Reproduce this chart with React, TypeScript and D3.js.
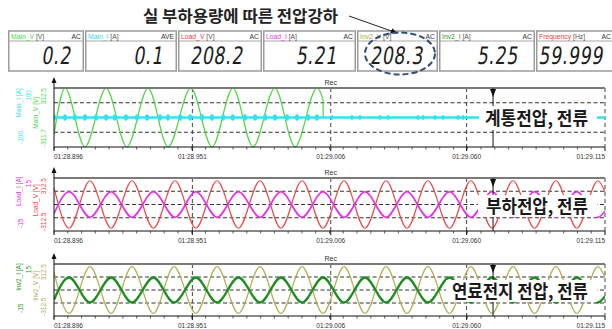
import React from "react";
import * as d3 from "d3";

// ---- time axis (ms after 01:28.896) ----
const timeDomainMs = [0, 219];
const timeTicksMs = [0, 55, 110, 164, 219];
const timeTickLabels = ["01:28.896", "01:28.951", "01:29.006", "01:29.060", "01:29.115"];
const recMs = 110;
const cursorMs = 174.5;

// ---- meter readouts ----
const meterNames = ["Main_V", "Main_I", "Load_V", "Load_I", "Inv2_V", "Inv2_I", "Frequency"];
const meterUnits = ["[V]", "[A]", "[V]", "[A]", "[V]", "[A]", "[Hz]"];
const meterModes = ["AC", "AVE", "AC", "AC", "AC", "AC", "AC"];
const meterValues = ["0.2", "0.1", "208.2", "5.21", "208.3", "5.25", "59.999"];

// ---- panels ----
const panelTitles = ["계통전압, 전류", "부하전압, 전류", "연료전지 전압, 전류"];
const voltNames = ["Main_V [V]", "Load_V [V]", "Inv2_V [V]"];
const currNames = ["Main_I [A]", "Load_I [A]", "Inv2_I [A]"];
const voltRanges = [[-311.7, 312.5], [-312.5, 312.5], [-312.5, 312.5]];
const currRanges = [[-100, 100], [-15, 15], [-15, 15]];

// Main_V: extremum instants (ms) and values (V); the source drops out at ~107 ms
const mainVTimes = [0, 4.4, 12.3, 20.7, 29.0, 37.4, 45.3, 54.4, 62.8, 71.1, 79.1, 87.8, 95.8, 104.5, 106.9, 107.0];
const mainVValues = [-180, 310, -310, 310, -310, 310, -310, 310, -310, 310, -310, 310, -310, 310, 190, 0];

// Main_I: flat near zero, with small spikes
const mainITimes = [0, 219];
const mainIValues = [0, 0];
const mainISpikesMs = [0, 4.4, 8.3, 12.3, 16.7, 20.7, 24.2, 28.6, 33.0, 37.0, 42.1, 45.3, 50.1, 54.1, 58.8, 62.8, 67.2, 71.1, 75.9, 79.9, 83.9, 87.8, 92.6, 96.6, 101.0, 104.5];
const mainISmallSpikesMs = [110.5, 118.4, 121.6, 129.6, 132.8, 144.7, 146.7, 151.4, 154.6, 160.6, 162.6];

// Load side: extremum instants (ms)
const loadTimes = [0, 6.0, 14.3, 22.7, 31.0, 39.5, 48.1, 56.4, 64.8, 73.3, 81.9, 90.2, 98.6, 106.9, 115.3, 123.6, 132.0, 140.3, 148.6, 157.2, 165.7, 174.1, 182.4, 191.0, 199.5, 207.8, 216.2, 219];
const loadVValues = [200, -280, 280, -280, 280, -280, 280, -280, 280, -280, 280, -280, 280, -280, 280, -280, 280, -280, 280, -280, 280, -280, 280, -280, 280, -280, 280, 150];
const loadIValues = [-5.2, 7.2, -7.2, 7.2, -7.2, 7.2, -7.2, 7.2, -7.2, 7.2, -7.2, 7.2, -7.2, 7.2, -7.2, 7.2, -7.2, 7.2, -7.2, 7.2, -7.2, 7.2, -7.2, 7.2, -7.2, 7.2, -7.2, -3.6];

// Fuel-cell inverter side
const inv2Times = [0, 6.0, 14.3, 22.7, 31.0, 39.5, 47.7, 56.4, 64.8, 73.3, 81.9, 90.2, 98.6, 106.9, 115.3, 123.6, 132.0, 140.3, 148.6, 157.2, 165.7, 174.1, 182.4, 191.0, 199.5, 207.8, 216.2, 219];
const inv2VValues = [215, -282, 282, -282, 282, -282, 282, -282, 282, -282, 282, -282, 282, -282, 282, -282, 282, -282, 282, -282, 282, -282, 282, -282, 282, -282, 282, 150];
const inv2IValues = [-5.6, 7.2, -7.2, 7.2, -7.2, 7.2, -7.2, 7.2, -7.2, 7.2, -7.2, 7.2, -7.2, 7.2, -7.2, 7.2, -7.2, 7.2, -7.2, 7.2, -7.2, 7.2, -7.2, 7.2, -7.2, 7.2, -7.2, -3.6];

// ---- styling / layout ----
const meterColors = ["#3fdc3f", "#2fd8e6", "#ee3a3a", "#e83ae8", "#aea23a", "#2a9a2a", "#ee3a3a"];
const meterLefts = [8, 85, 178, 263, 357, 439, 536, 620];
const meterValueRight = [71, 163, 243, 337, 423, 518, 603];
const panelTops = [88, 178, 264];
const panelBottoms = [147, 231, 316];
const voltColors = ["#46da3a", "#f04848", "#b5ad52"];
const currColors = ["#2ee4f0", "#ec2cec", "#1b8f1b"];
const currTextColors = ["#2ee4f0", "#ec2cec", "#22a022"];
const voltWidths = [1.2, 1.2, 1.2];
const currWidths = [2.6, 1.6, 2.3];
const noteBoxes = [
  { x: 479, y: 106, w: 118, h: 24, t0: 485, t1: 588 },
  { x: 478, y: 195, w: 119, h: 22, t0: 486, t1: 588 },
  { x: 446, y: 280, w: 151, h: 22, t0: 452, t1: 588 },
];

const PLOT_L = 54;
const PLOT_R = 605;
const SANS = "'Liberation Sans', Arial, sans-serif";
const KR = "'Noto Sans CJK KR', 'Noto Sans', sans-serif";

function Panel({ i }: { i: number }) {
  const top = panelTops[i];
  const bottom = panelBottoms[i];
  const h = bottom - top;
  const x = d3.scaleLinear().domain(timeDomainMs).range([PLOT_L, PLOT_R]);
  const yV = d3.scaleLinear().domain(voltRanges[i]).range([bottom, top]);
  const yI = d3.scaleLinear().domain(currRanges[i]).range([bottom, top]);

  const seriesByPanel = [
    { vt: mainVTimes, vv: mainVValues, it: mainITimes, iv: mainIValues },
    { vt: loadTimes, vv: loadVValues, it: loadTimes, iv: loadIValues },
    { vt: inv2Times, vv: inv2VValues, it: inv2Times, iv: inv2IValues },
  ][i];

  const lineV = d3
    .line<number>()
    .x((_, k) => x(seriesByPanel.vt[k]))
    .y((d) => yV(d))
    .curve(d3.curveMonotoneX);
  const lineI = d3
    .line<number>()
    .x((_, k) => x(seriesByPanel.it[k]))
    .y((d) => yI(d))
    .curve(d3.curveMonotoneX);

  const minor = d3.range(0, 40).map((k) => (timeDomainMs[1] * k) / 40);
  const hGrid = [0.25, 0.5, 0.75].map((f) => top + f * h);
  const clipId = `clip${i}`;
  const note = noteBoxes[i];

  const vLabelY = top + 0.42 * h;
  const iLabelY = top + 0.25 * h;

  return (
    <g>
      <defs>
        <clipPath id={clipId}>
          <rect x={PLOT_L} y={top - 1} width={PLOT_R - PLOT_L} height={h + 2} />
        </clipPath>
      </defs>
      {/* grid */}
      {hGrid.map((gy, k) => (
        <line key={k} x1={PLOT_L} x2={PLOT_R} y1={gy} y2={gy} stroke="#333" strokeWidth={1} strokeDasharray="4 2.5" />
      ))}
      {timeTicksMs.slice(1).map((t, k) => (
        <line key={k} x1={x(t)} x2={x(t)} y1={top} y2={bottom} stroke="#444" strokeWidth={1} strokeDasharray="4 3" />
      ))}
      {/* traces */}
      <g clipPath={`url(#${clipId})`}>
        <path d={lineV(seriesByPanel.vv) || ""} fill="none" stroke={voltColors[i]} strokeWidth={voltWidths[i]} />
        <path d={lineI(seriesByPanel.iv) || ""} fill="none" stroke={currColors[i]} strokeWidth={currWidths[i]} strokeLinejoin="round" />
        {i === 0 &&
          mainISpikesMs.map((t, k) => (
            <ellipse key={k} cx={x(t)} cy={yI(0)} rx={2} ry={3.2} fill={currColors[0]} />
          ))}
        {i === 0 &&
          mainISmallSpikesMs.map((t, k) => (
            <ellipse key={"s" + k} cx={x(t)} cy={yI(0)} rx={1.5} ry={2.4} fill={currColors[0]} />
          ))}
      </g>
      {/* frame */}
      <line x1={PLOT_L} x2={PLOT_R} y1={top} y2={top} stroke="#7a7a7a" strokeWidth={2} />
      <line x1={PLOT_L} x2={PLOT_R} y1={bottom} y2={bottom} stroke="#111" strokeWidth={1} />
      <line x1={PLOT_L} x2={PLOT_L} y1={top - 8} y2={bottom} stroke="#111" strokeWidth={1} />
      <path d={`M${PLOT_L},${top - 11} l-2.5,6 h5 z`} fill="#111" />
      {minor.map((t, k) => (
        <line key={k} x1={x(t)} x2={x(t)} y1={bottom} y2={bottom + 2.5} stroke="#333" strokeWidth={0.8} />
      ))}
      {timeTicksMs.map((t, k) => (
        <line key={k} x1={x(t)} x2={x(t)} y1={bottom} y2={bottom + 4} stroke="#111" strokeWidth={1} />
      ))}
      {timeTicksMs.map((t, k) => (
        <text
          key={k}
          x={x(t)}
          y={bottom + 11.5}
          fontSize={6.5}
          fill="#333"
          textAnchor={k === 0 ? "start" : k === timeTicksMs.length - 1 ? "end" : "middle"}
        >
          {timeTickLabels[k]}
        </text>
      ))}
      {/* Rec mark and cursor */}
      <text x={x(recMs)} y={top - 3} fontSize={7} fill="#333" textAnchor="middle">Rec</text>
      <line x1={x(cursorMs)} x2={x(cursorMs)} y1={top} y2={bottom} stroke="#111" strokeWidth={1} />
      <path d={`M${x(cursorMs) - 3},${top + 1} h6 l-3,8 z`} fill="#111" />
      {/* note */}
      <rect x={note.x} y={note.y} width={note.w} height={note.h} fill="#fff" />
      <text
        x={note.t0}
        y={note.y + note.h / 2 + 6.5}
        fontSize={18}
        fontWeight={700}
        fontFamily={KR}
        fill="#1a1a1a"
        textLength={note.t1 - note.t0}
        lengthAdjust="spacingAndGlyphs"
      >
        {panelTitles[i]}
      </text>
      {/* y-axis captions */}
      <g fontSize={6.5}>
        <text transform={`translate(20.5,${iLabelY}) rotate(-90)`} textAnchor="middle" fill={currTextColors[i]}>
          {currNames[i]}
        </text>
        <text transform={`translate(30.5,${top + 2}) rotate(-90)`} textAnchor="end" fill={currTextColors[i]}>
          {String(currRanges[i][1])}
        </text>
        <text transform={`translate(22.5,${bottom - 3}) rotate(-90)`} textAnchor="start" fill={currTextColors[i]}>
          {String(currRanges[i][0])}
        </text>
        <text transform={`translate(37.5,${vLabelY}) rotate(-90)`} textAnchor="middle" fill={voltColors[i]}>
          {voltNames[i]}
        </text>
        <text transform={`translate(45.5,${top}) rotate(-90)`} textAnchor="end" fill={voltColors[i]}>
          {String(voltRanges[i][1])}
        </text>
        <text transform={`translate(45.5,${bottom}) rotate(-90)`} textAnchor="start" fill={voltColors[i]}>
          {String(voltRanges[i][0])}
        </text>
      </g>
    </g>
  );
}

function Meter({ k }: { k: number }) {
  const left = meterLefts[k];
  const right = meterLefts[k + 1] - 1;
  return (
    <g>
      <rect x={left + 0.75} y={31} width={right - left - 1.5} height={40} fill="#fff" stroke="#9c9c9c" strokeWidth={1.5} />
      <line x1={left + 1} x2={right - 1} y1={41} y2={41} stroke="#a8a8a8" strokeWidth={1} />
      <text x={left + 3} y={39} fontSize={6.8}>
        <tspan fill={meterColors[k]}>{meterNames[k]}</tspan>
        <tspan fill="#555">{" " + meterUnits[k]}</tspan>
      </text>
      <text x={Math.min(right - 3, 611)} y={39} fontSize={6.8} fill="#333" textAnchor="end">
        {meterModes[k]}
      </text>
      {/* slanted, narrow readout digits */}
      <g transform={`translate(${meterValueRight[k]},64) skewX(-9) scale(0.72,1)`}>
        <text x={0} y={0} fontSize={24} fontWeight={400} fontFamily="'DejaVu Sans', sans-serif" fill="#1c1c1c" textAnchor="end" letterSpacing={1}>
          {meterValues[k]}
        </text>
      </g>
    </g>
  );
}

export default function App() {
  return (
    <svg
      width={612}
      height={329}
      viewBox="0 0 612 329"
      style={{ position: "absolute", left: 0, top: 0, background: "#fff" }}
      fontFamily={SANS}
    >
      <defs>
        <marker id="arrowHead" viewBox="0 0 10 10" refX={9} refY={5} markerWidth={7} markerHeight={7} orient="auto">
          <path d="M0,1 L10,5 L0,9 z" fill="#111" />
        </marker>
      </defs>
      <rect x={0} y={0} width={612} height={329} fill="#fff" />
      {meterNames.map((_, k) => (
        <Meter key={k} k={k} />
      ))}
      <text x={143} y={22} fontSize={16} fontWeight={700} fontFamily={KR} fill="#222" textLength={195} lengthAdjust="spacingAndGlyphs">
        실 부하용량에 따른 전압강하
      </text>
      <line x1={349} y1={16} x2={397} y2={33} stroke="#222" strokeWidth={1} markerEnd="url(#arrowHead)" />
      <ellipse cx={400} cy={53.5} rx={35} ry={21} fill="none" stroke="#2d4e7e" strokeWidth={2} strokeDasharray="6 3" />
      {panelTops.map((_, i) => (
        <Panel key={i} i={i} />
      ))}
    </svg>
  );
}
